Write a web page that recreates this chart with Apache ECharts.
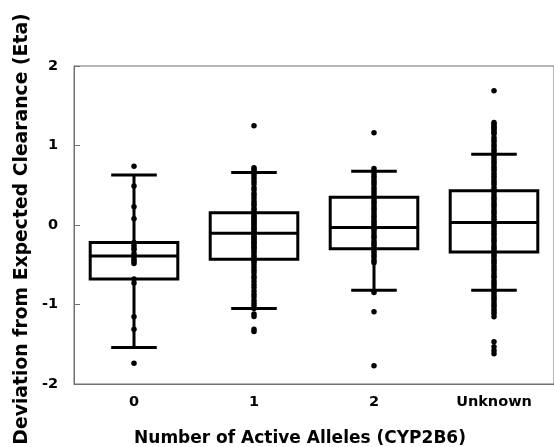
<!DOCTYPE html>
<html><head><meta charset="utf-8">
<script src="https://cdn.jsdelivr.net/npm/echarts@6/dist/echarts.min.js"></script>
<style>html,body{margin:0;padding:0;background:#fff}#c{width:554px;height:447px}</style>
</head><body><div id="c"></div>
<script>
const categories = ['0', '1', '2', 'Unknown'];
const whiskerLow  = [-1.54, -1.05, -0.82, -0.82];
const quartile1   = [-0.68, -0.43, -0.30, -0.34];
const medians     = [-0.39, -0.105, -0.03, 0.03];
const quartile3   = [-0.22, 0.155, 0.35, 0.43];
const whiskerHigh = [0.63, 0.66, 0.675, 0.89];

const points0 = [0.74, 0.49, 0.23, 0.08, -0.22, -0.255, -0.29, -0.31, -0.36, -0.40, -0.435, -0.46, -0.485, -0.68, -0.73, -1.155, -1.31, -1.74];
const points1 = [1.25, 0.72, 0.70, 0.68, 0.65, 0.62, 0.585, 0.55, 0.515, 0.47, 0.44, 0.40, 0.37, 0.335, 0.30, 0.27, 0.245, 0.21, 0.19, 0.16, 0.14, 0.12, 0.095, 0.08, 0.055, 0.04, 0.02, 0.0, -0.025, -0.04, -0.06, -0.085, -0.10, -0.12, -0.145, -0.16, -0.18, -0.205, -0.22, -0.24, -0.265, -0.28, -0.30, -0.325, -0.35, -0.38, -0.41, -0.445, -0.47, -0.50, -0.535, -0.57, -0.60, -0.64, -0.67, -0.71, -0.75, -0.785, -0.83, -0.87, -0.905, -0.95, -0.985, -1.02, -1.05, -1.12, -1.15, -1.31, -1.34];
const points2 = [1.16, 0.71, 0.68, 0.655, 0.62, 0.595, 0.56, 0.53, 0.505, 0.47, 0.44, 0.41, 0.375, 0.33, 0.30, 0.275, 0.24, 0.21, 0.185, 0.15, 0.12, 0.095, 0.06, 0.035, 0.01, -0.02, -0.05, -0.075, -0.11, -0.14, -0.165, -0.20, -0.23, -0.255, -0.29, -0.32, -0.35, -0.38, -0.41, -0.445, -0.475, -0.85, -1.09, -1.77];
const pointsU = [1.69, 1.29, 1.27, 1.245, 1.225, 1.21, 1.185, 1.165, 1.145, 1.10, 1.07, 1.045, 1.01, 0.985, 0.95, 0.925, 0.89, 0.865, 0.83, 0.80, 0.775, 0.74, 0.71, 0.685, 0.65, 0.62, 0.595, 0.56, 0.53, 0.505, 0.47, 0.44, 0.415, 0.38, 0.35, 0.325, 0.29, 0.26, 0.235, 0.20, 0.17, 0.145, 0.11, 0.08, 0.055, 0.02, -0.01, -0.035, -0.07, -0.10, -0.125, -0.16, -0.19, -0.215, -0.25, -0.28, -0.305, -0.34, -0.37, -0.395, -0.43, -0.46, -0.485, -0.52, -0.55, -0.575, -0.61, -0.64, -0.665, -0.70, -0.73, -0.755, -0.79, -0.82, -0.845, -0.88, -0.91, -0.935, -0.97, -1.00, -1.025, -1.06, -1.09, -1.115, -1.155, -1.47, -1.53, -1.58, -1.62];
const pointGroups = [points0, points1, points2, pointsU];

const xTitle = 'Number of Active Alleles (CYP2B6)';
const yTitle = 'Deviation from Expected Clearance (Eta)';

const boxData = categories.map((c, i) => [i, whiskerLow[i], quartile1[i], medians[i], quartile3[i], whiskerHigh[i]]);
const dotData = [];
pointGroups.forEach((g, i) => g.forEach(v => dotData.push([i, v])));

const FONT = 'DejaVu Sans';
const AX = '#707070';

function renderBox(params, api) {
  const i = api.value(0);
  const pLow = api.coord([i, api.value(1)]);
  const pQ1 = api.coord([i, api.value(2)]);
  const pMed = api.coord([i, api.value(3)]);
  const pQ3 = api.coord([i, api.value(4)]);
  const pHigh = api.coord([i, api.value(5)]);
  const band = api.size([1, 0])[0];
  const bw = band * 0.73, cw = band * 0.38;
  const cx = pMed[0];
  const st = { stroke: '#000', lineWidth: 3, fill: null };
  return {
    type: 'group',
    children: [
      { type: 'line', shape: { x1: cx, y1: pHigh[1], x2: cx, y2: pQ3[1] }, style: st },
      { type: 'line', shape: { x1: cx, y1: pQ1[1], x2: cx, y2: pLow[1] }, style: st },
      { type: 'line', shape: { x1: cx - cw / 2, y1: pHigh[1], x2: cx + cw / 2, y2: pHigh[1] }, style: st },
      { type: 'line', shape: { x1: cx - cw / 2, y1: pLow[1], x2: cx + cw / 2, y2: pLow[1] }, style: st },
      { type: 'rect', shape: { x: cx - bw / 2, y: pQ3[1], width: bw, height: pQ1[1] - pQ3[1] }, style: st },
      { type: 'line', shape: { x1: cx - bw / 2, y1: pMed[1], x2: cx + bw / 2, y2: pMed[1] }, style: st }
    ]
  };
}

const chart = echarts.init(document.getElementById('c'), null, { renderer: 'canvas' });
chart.setOption({
  animation: false,
  backgroundColor: '#fff',
  grid: { left: 74, top: 66, width: 484, height: 318, show: true, borderColor: AX, borderWidth: 1, containLabel: false },
  xAxis: {
    type: 'category', data: categories, boundaryGap: true,
    axisLine: { onZero: false, lineStyle: { color: AX, width: 1 } },
    axisTick: { inside: true, length: 5, alignWithLabel: true, lineStyle: { color: AX } },
    axisLabel: { fontFamily: FONT, fontWeight: 'bold', fontSize: 14.5, color: '#000', margin: 11 },
    splitLine: { show: false }
  },
  yAxis: {
    type: 'value', min: -2, max: 2, interval: 1,
    axisLine: { show: true, onZero: false, lineStyle: { color: AX, width: 1 } },
    axisTick: { show: true, inside: true, length: 6, lineStyle: { color: AX } },
    axisLabel: { fontFamily: FONT, fontWeight: 'bold', fontSize: 14.5, color: '#000', margin: 16 },
    splitLine: { show: false }
  },
  graphic: [
    { type: 'text', x: 300, y: 439, style: { text: xTitle, font: 'bold 17px "DejaVu Sans"', fill: '#000', textAlign: 'center', textVerticalAlign: 'middle' } },
    { type: 'text', x: 22, y: 229, rotation: Math.PI / 2, style: { text: yTitle, font: 'bold 18.8px "DejaVu Sans"', fill: '#000', textAlign: 'center', textVerticalAlign: 'middle' } }
  ],
  series: [
    { type: 'custom', renderItem: renderBox, data: boxData, encode: { x: 0, y: [1, 2, 3, 4, 5] }, z: 2, silent: true },
    { type: 'scatter', data: dotData, symbol: 'circle', symbolSize: 5.5, itemStyle: { color: '#000', opacity: 1 }, z: 3, silent: true }
  ]
});
</script></body></html>
